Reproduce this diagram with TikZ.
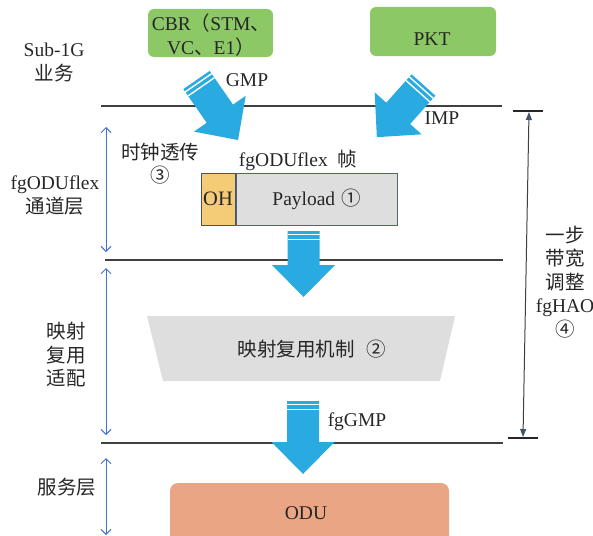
\documentclass[tikz,border=0pt]{standalone}
\usepackage{fontspec}
\setmainfont{Liberation Serif}
\newfontfamily\cjk{Noto Sans CJK SC}
\usetikzlibrary{arrows.meta}
\definecolor{greenbox}{RGB}{141,200,102}
\definecolor{arrowblue}{RGB}{41,170,224}
\definecolor{ohfill}{RGB}{245,204,118}
\definecolor{grayfill}{RGB}{222,222,222}
\definecolor{odufill}{RGB}{234,166,132}
\definecolor{dimblue}{RGB}{68,114,196}
\definecolor{linegray}{RGB}{64,64,64}
\definecolor{boxedge}{RGB}{80,96,136}
\definecolor{txt}{RGB}{38,38,38}
\definecolor{slate}{RGB}{68,84,106}
\newcommand{\zh}[1]{{\cjk #1}}
\tikzset{
  pics/fatarrow/.style={code={
    \fill[arrowblue] (0,-16) -- ({#1-32},-16) -- ({#1-32},-31.5) -- (#1,0)
      -- ({#1-32},31.5) -- ({#1-32},16) -- (0,16) -- cycle;
    \draw[white, line width=1.4pt] (3.4,-16) -- (3.4,16) (8.3,-16) -- (8.3,16);
  }}
}
\begin{document}
\begin{tikzpicture}[x=1pt,y=-1pt,
  font=\fontsize{19.5}{23.5}\selectfont, text=txt,
  lbl/.style={inner sep=0pt, align=center},
  srcbox/.style={fill=greenbox, rounded corners=6pt, draw=none, inner sep=0pt},
  layerline/.style={draw=linegray, line width=1.5pt},
  dimarrow/.style={draw=dimblue, line width=0.9pt,
    {Straight Barb[length=5pt,width=10pt]}-{Straight Barb[length=5pt,width=10pt]}},
  tick/.style={draw=black!85, line width=1.3pt},
  framebox/.style={draw=boxedge, line width=1pt, inner sep=0pt, minimum height=52pt}
]
\useasboundingbox (0,0) rectangle (593,535);

% layer lines
\coordinate (l1a) at (101,106); \coordinate (l1b) at (502,106);
\coordinate (l2a) at (105,260); \coordinate (l2b) at (503,260);
\coordinate (l3a) at (101,443); \coordinate (l3b) at (503,443);
\draw[layerline] (l1a) -- (l1b);
\draw[layerline] (l2a) -- (l2b);
\draw[layerline] (l3a) -- (l3b);

% left dimension arrows
\coordinate (d1a) at (106,127); \coordinate (d1b) at (106,252);
\coordinate (d2a) at (106,268); \coordinate (d2b) at (106,435);
\coordinate (d3a) at (106,458); \coordinate (d3b) at (106,535);
\draw[dimarrow] (d1a) -- (d1b);
\draw[dimarrow] (d2a) -- (d2b);
\draw[dimarrow] (d3a) -- (d3b);

% right measure
\coordinate (t1a) at (513,111); \coordinate (t1b) at (543,111);
\coordinate (t2a) at (508,438); \coordinate (t2b) at (538,438);
\coordinate (mt) at (529,112); \coordinate (mb) at (523,437);
\draw[tick] (t1a) -- (t1b);
\draw[tick] (t2a) -- (t2b);
\draw[draw=linegray, line width=1pt,
  {Triangle[length=8pt,width=6pt,color=slate]}-{Triangle[length=8pt,width=6pt,color=slate]}] (mt) -- (mb);

% source boxes
\node[srcbox, minimum width=125pt, minimum height=48pt] (cbr) at (210.5,33) {};
\node[lbl] (cbrtext) at (211,35) {CBR\zh{（}STM\zh{、}\\VC\zh{、}E1\zh{）}};
\node[srcbox, minimum width=126pt, minimum height=49pt] (pkt) at (433,31.5) {};
\node[lbl] (pkttext) at (432,39) {PKT};

% frame
\node[framebox, draw=slate, fill=ohfill, minimum width=34pt, font=\fontsize{20.5}{24}\selectfont] (oh) at (218,199) {OH};
\node[framebox, fill=grayfill, minimum width=161pt, anchor=west] (payload) at (oh.east) {Payload\hspace{0.3em}\zh{①}};

% mapping mechanism
\coordinate (tz1) at (147,316); \coordinate (tz2) at (455,316);
\coordinate (tz3) at (440,381); \coordinate (tz4) at (163,381);
\fill[grayfill] (tz1) -- (tz2) -- (tz3) -- (tz4) -- cycle;
\node[lbl] (mech) at (312,349) {\zh{映射复用机制\hspace{0.6em}②}};

% ODU
\begin{scope}
\clip (0,0) rectangle (593,535);
\node[fill=odufill, rounded corners=8pt, minimum width=279pt, minimum height=70pt, inner sep=0pt] (odu) at (309.5,518) {};
\end{scope}
\node[lbl] (odutext) at (306,513) {ODU};

% fat arrows
\pic[rotate=-55.3] (gmparrow) at (196.5,80) {fatarrow=73};
\pic[rotate=-131.8] (imparrow) at (423.5,85) {fatarrow=70};
\pic[rotate=-90] (midarrow) at (303.5,231) {fatarrow=66};
\pic[rotate=-90] (fggmparrow) at (303,401) {fatarrow=73};

% labels
\node[lbl] (gmp) at (247,80) {GMP};
\node[lbl] (imp) at (442,118) {IMP};
\node[lbl] (fggmp) at (357,422) {fgGMP};
\node[lbl] (frame) at (298,160) {fgODUflex\hspace{0.5em}\zh{帧}};
\node[lbl] (clock) at (160,163.5) {\zh{时钟透传}\\\zh{③}};
\node[lbl] (sub1g) at (54,62.5) {Sub-1G\\\zh{业务}};
\node[lbl] (chan) at (55,195.5) {fgODUflex\\\zh{通道层}};
\node[lbl] (map) at (66,355) {\zh{映射}\\\zh{复用}\\\zh{适配}};
\node[lbl] (serv) at (67,487) {\zh{服务层}};
\node[lbl] (bw) at (565,282) {\zh{一步}\\\zh{带宽}\\\zh{调整}\\fgHAO\\\zh{④}};
\end{tikzpicture}
\end{document}
